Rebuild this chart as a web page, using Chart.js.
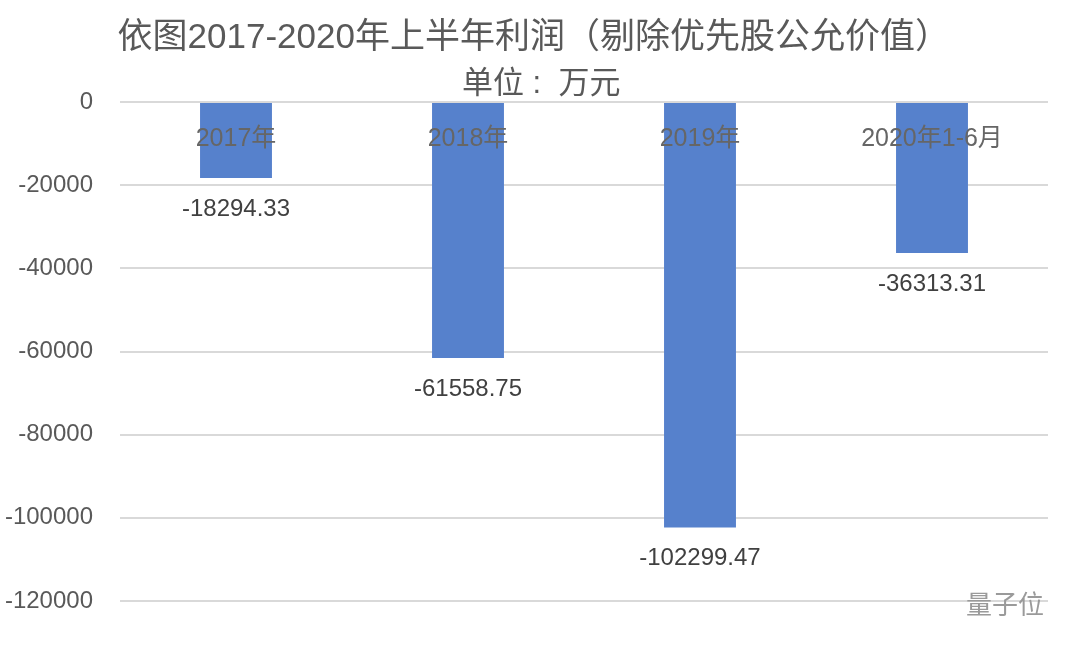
<!DOCTYPE html>
<html>
<head>
<meta charset="utf-8">
<script src="https://cdn.jsdelivr.net/npm/chart.js@4/dist/chart.umd.min.js"></script>
<style>
  html, body { margin: 0; padding: 0; background: #fff; }
  #wrap { position: relative; width: 1080px; height: 646px; }
  #mark {
    position: absolute; left: 966px; top: 584px;
    font: 26px "Noto Sans CJK SC", sans-serif; color: #9a9a9a;
  }
</style>
</head>
<body>
<div id="wrap">
  <canvas id="c" width="1080" height="646"></canvas>
  <div id="mark">量子位</div>
</div>
<script>
const FONT = "'Liberation Sans', 'Noto Sans CJK SC', sans-serif";

const categories = ["2017年", "2018年", "2019年", "2020年1-6月"];
const profits = [-18294.33, -61558.75, -102299.47, -36313.31];
// leading spaces nudge the centred titles a little to the right, like the original
const titleText = "  依图2017-2020年上半年利润（剔除优先股公允价值）";
const subtitleText = "    单位 :  万元";

// value labels under each bar
const valueLabels = {
  id: "valueLabels",
  afterDatasetsDraw(chart) {
    const ctx = chart.ctx;
    const meta = chart.getDatasetMeta(0);
    ctx.save();
    ctx.font = "24px " + FONT;
    ctx.fillStyle = "#404040";
    ctx.textAlign = "center";
    ctx.textBaseline = "middle";
    meta.data.forEach((bar, i) => {
      ctx.fillText(profits[i].toFixed(2), bar.x, bar.y + 31);
    });
    ctx.restore();
  }
};

new Chart(document.getElementById("c"), {
  type: "bar",
  data: {
    labels: categories,
    datasets: [{
      data: profits,
      backgroundColor: "#5681CC",
      barPercentage: 0.31,
      categoryPercentage: 1
    }]
  },
  options: {
    responsive: false,
    animation: false,
    layout: { padding: { left: 0, right: 32, top: 0, bottom: 45 } },
    plugins: {
      legend: { display: false },
      tooltip: { enabled: false },
      title: {
        display: true,
        text: titleText,
        color: "#595959",
        font: { family: FONT, size: 35, weight: "normal", lineHeight: 1.2 },
        padding: { top: 17, bottom: 10 }
      },
      subtitle: {
        display: true,
        text: subtitleText,
        color: "#595959",
        font: { family: FONT, size: 31, weight: "normal", lineHeight: 1.0 },
        padding: { top: 0, bottom: 2 }
      }
    },
    scales: {
      x: {
        position: { y: 0 },
        grid: { display: false, drawTicks: false },
        border: { display: false },
        ticks: { z: 1, color: "#666666", font: { family: FONT, size: 25 }, padding: 22 }
      },
      y: {
        min: -120000,
        max: 0,
        afterFit(scale) { scale.width = 120; },
        grid: { color: "#d9d9d9", lineWidth: 2, drawTicks: false },
        border: { display: false },
        ticks: {
          stepSize: 20000,
          color: "#595959",
          font: { family: FONT, size: 24 },
          padding: 27,
          callback: v => String(v)
        }
      }
    }
  },
  plugins: [valueLabels]
});
</script>
</body>
</html>
